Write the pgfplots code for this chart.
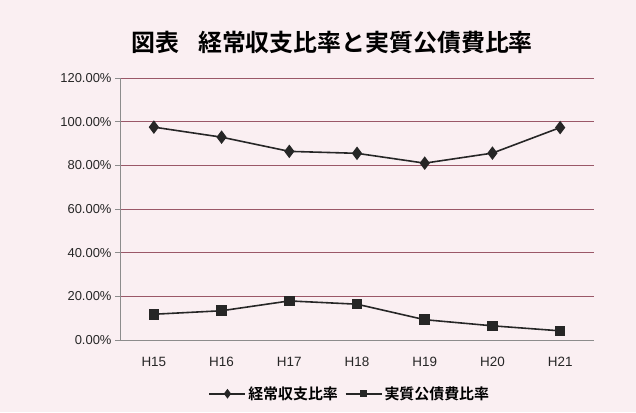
\documentclass[border=0pt]{standalone}
\usepackage{pgfplots}
\pgfplotsset{compat=1.18}
\usepackage{fontspec}
\setmainfont{Liberation Sans}
\newfontfamily\cjk{Noto Sans CJK JP}
\newfontfamily\cjkb{Noto Sans CJK JP Bold}

\definecolor{bgpink}{HTML}{FAEFF2}
\definecolor{gridred}{HTML}{9A5868}
\definecolor{axisgray}{HTML}{8C8C8C}
\definecolor{ink}{HTML}{262626}

\begin{document}
\begin{tikzpicture}[x=1bp,y=1bp]
  \fill[bgpink] (0,0) rectangle (636,412);
  \useasboundingbox (0,0) rectangle (636,412);
  \node[font=\cjkb\fontsize{24}{28}\selectfont] at (332,370) {図表\hspace{0.8em}経常収支比率と実質公債費比率};

  \begin{axis}[
    at={(120bp,72bp)}, anchor=south west,
    scale only axis,
    width=474bp, height=262bp,
    xmin=-0.5, xmax=6.5,
    ymin=0, ymax=120,
    axis x line*=bottom, axis y line*=left,
    axis line style={axisgray, line width=0.8pt, -},
    xtick={0,...,6},
    xticklabels={H15,H16,H17,H18,H19,H20,H21},
    x tick label style={font=\fontsize{13.5}{15}\selectfont, text=ink, yshift=-9bp},
    major x tick style={draw=none},
    extra x ticks={-0.5,0.5,1.5,2.5,3.5,4.5,5.5,6.5},
    extra x tick labels={},
    extra x tick style={tick style={axisgray, line width=0.8pt}, major tick length=5bp, tick align=outside, grid=none},
    ytick={0,20,...,120},
    yticklabel={\pgfmathprintnumber[fixed,fixed zerofill,precision=2]{\tick}\%},
    /pgf/number format/assume math mode=true,
    y tick label style={font=\fontsize{13}{15}\selectfont, text=ink},
    tick align=outside,
    major tick length=5bp,
    tick style={axisgray, line width=0.8pt},
    ymajorgrids=true,
    grid style={gridred, line width=0.8pt},
    legend style={at={(0.485,-0.205)}, anchor=center, draw=none, fill=none,
      legend columns=2, font=\cjkb\fontsize{15}{17}\selectfont,
      /tikz/every even column/.append style={column sep=5bp}},
    legend image code/.code={\draw[mark repeat=2, mark phase=2, #1, mark options={scale=0.65}]
      plot coordinates {(0bp,0bp)(18bp,0bp)(36bp,0bp)};},
    clip=false,
  ]
  \addplot[ink, line width=1.6pt, mark=diamond*, mark size=5.5bp, mark options={fill=ink}]
    coordinates {(0,97.5)(1,92.9)(2,86.4)(3,85.5)(4,81.0)(5,85.6)(6,97.3)};
  \addlegendentry{経常収支比率}
  \addplot[ink, line width=1.6pt, mark=square*, mark size=4.5bp, mark options={fill=ink}]
    coordinates {(0,11.8)(1,13.4)(2,17.9)(3,16.4)(4,9.3)(5,6.5)(6,4.2)};
  \addlegendentry{実質公債費比率}
  \end{axis}
\end{tikzpicture}
\end{document}
